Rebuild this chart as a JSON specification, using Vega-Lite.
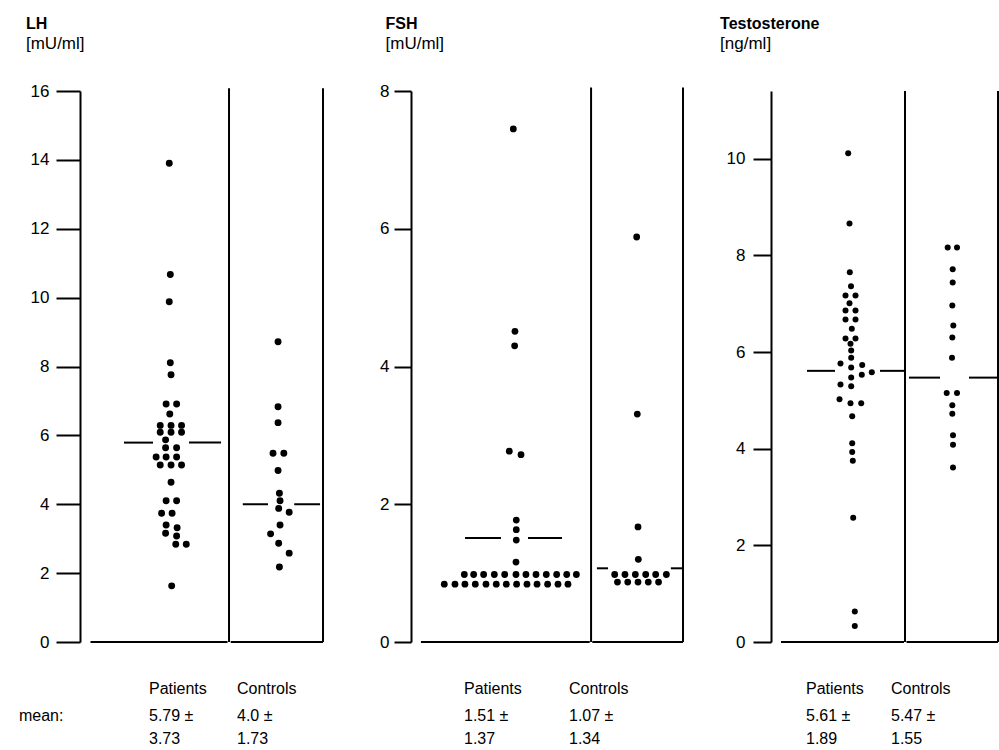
{
  "$schema": "https://vega.github.io/schema/vega-lite/v6.json",
  "padding": {"left": 18, "top": 16, "right": 0, "bottom": 0},
  "background": "white",
  "spacing": 88,
  "bounds": "flush",
  "config": {
    "view": {"stroke": null},
    "font": "Liberation Sans",
    "axis": {"grid": false, "domainColor": "black", "domainWidth": 2, "tickColor": "black", "tickWidth": 2, "labelFontSize": 17, "labelColor": "black", "labelFont": "Liberation Sans", "format": "d"},
    "text": {"font": "Liberation Sans", "fontSize": 16, "color": "black"}
  },
  "datasets": {
    "lh_pts": [
      {"group":"Patients","x":8.5,"value":13.9},{"group":"Patients","x":8.6,"value":10.67},{"group":"Patients","x":8.5,"value":9.88},{"group":"Patients","x":8.6,"value":8.11},{"group":"Patients","x":8.67,"value":7.76},
      {"group":"Patients","x":8.2,"value":6.91},{"group":"Patients","x":9.2,"value":6.91},{"group":"Patients","x":8.55,"value":6.62},
      {"group":"Patients","x":7.64,"value":6.29},{"group":"Patients","x":8.67,"value":6.29},{"group":"Patients","x":9.67,"value":6.29},
      {"group":"Patients","x":7.64,"value":6.09},{"group":"Patients","x":8.67,"value":6.09},{"group":"Patients","x":9.67,"value":6.09},
      {"group":"Patients","x":8.15,"value":5.87},{"group":"Patients","x":8.15,"value":5.64},{"group":"Patients","x":9.2,"value":5.64},
      {"group":"Patients","x":7.25,"value":5.37},{"group":"Patients","x":8.2,"value":5.37},{"group":"Patients","x":9.2,"value":5.37},
      {"group":"Patients","x":7.64,"value":5.14},{"group":"Patients","x":8.67,"value":5.14},{"group":"Patients","x":9.67,"value":5.14},
      {"group":"Patients","x":8.67,"value":4.64},{"group":"Patients","x":8.2,"value":4.1},{"group":"Patients","x":9.2,"value":4.1},
      {"group":"Patients","x":7.77,"value":3.74},{"group":"Patients","x":8.77,"value":3.74},{"group":"Patients","x":8.2,"value":3.4},{"group":"Patients","x":9.25,"value":3.32},
      {"group":"Patients","x":8.15,"value":3.16},{"group":"Patients","x":9.2,"value":3.08},{"group":"Patients","x":9.12,"value":2.84},{"group":"Patients","x":10.12,"value":2.84},{"group":"Patients","x":8.73,"value":1.63},
      {"group":"Controls","x":18.86,"value":8.72},{"group":"Controls","x":18.86,"value":6.83},{"group":"Controls","x":18.86,"value":6.37},
      {"group":"Controls","x":18.38,"value":5.48},{"group":"Controls","x":19.41,"value":5.48},{"group":"Controls","x":18.86,"value":4.98},
      {"group":"Controls","x":18.99,"value":4.32},{"group":"Controls","x":19.05,"value":4.1},{"group":"Controls","x":18.92,"value":3.88},{"group":"Controls","x":19.92,"value":3.77},
      {"group":"Controls","x":19.05,"value":3.4},{"group":"Controls","x":18.15,"value":3.14},{"group":"Controls","x":18.92,"value":2.87},{"group":"Controls","x":19.92,"value":2.58},{"group":"Controls","x":18.99,"value":2.18}
    ],
    "lh_frame": [{"x": 14.19}, {"x": 23.14}],
    "lh_base": [{"x": 1.0, "x2": 14.05}, {"x": 14.35, "x2": 23.14}],
    "lh_mean": [
      {"group":"Patients","mean":5.79,"x":4.19,"x2":6.95},{"group":"Patients","mean":5.79,"x":10.38,"x2":13.43},
      {"group":"Controls","mean":4.0,"x":15.5,"x2":17.9},{"group":"Controls","mean":4.0,"x":20.4,"x2":22.86}
    ],
    "lh_labels": [{"x": 6.57, "label": "Patients"}, {"x": 14.95, "label": "Controls"}],
    "lh_stats": [{"x": -5.81, "label": "mean:"}, {"x": 6.57, "label": "5.79 ±\n3.73"}, {"x": 14.95, "label": "4.0 ±\n1.73"}],

    "fsh_pts": [
      {"group":"Patients","x":9.96,"value":7.45},{"group":"Patients","x":10.12,"value":4.51},{"group":"Patients","x":10.09,"value":4.3},
      {"group":"Patients","x":9.57,"value":2.77},{"group":"Patients","x":10.71,"value":2.72},{"group":"Patients","x":10.25,"value":1.77},
      {"group":"Patients","x":10.25,"value":1.63},{"group":"Patients","x":10.25,"value":1.48},{"group":"Patients","x":10.22,"value":1.16},
      {"group":"Patients","x":5.19,"value":0.98},{"group":"Patients","x":6.1,"value":0.98},{"group":"Patients","x":7.07,"value":0.98},{"group":"Patients","x":8.11,"value":0.98},
      {"group":"Patients","x":9.12,"value":0.98},{"group":"Patients","x":10.22,"value":0.98},{"group":"Patients","x":11.19,"value":0.98},{"group":"Patients","x":12.17,"value":0.98},
      {"group":"Patients","x":13.17,"value":0.98},{"group":"Patients","x":14.18,"value":0.98},{"group":"Patients","x":15.16,"value":0.98},{"group":"Patients","x":16.1,"value":0.98},
      {"group":"Patients","x":3.24,"value":0.84},{"group":"Patients","x":4.28,"value":0.84},{"group":"Patients","x":5.25,"value":0.84},{"group":"Patients","x":6.26,"value":0.84},
      {"group":"Patients","x":7.3,"value":0.84},{"group":"Patients","x":8.3,"value":0.84},{"group":"Patients","x":9.28,"value":0.84},{"group":"Patients","x":10.28,"value":0.84},
      {"group":"Patients","x":11.29,"value":0.84},{"group":"Patients","x":12.27,"value":0.84},{"group":"Patients","x":13.3,"value":0.84},{"group":"Patients","x":14.31,"value":0.84},{"group":"Patients","x":15.28,"value":0.84},
      {"group":"Controls","x":21.97,"value":5.88},{"group":"Controls","x":22.03,"value":3.31},{"group":"Controls","x":22.1,"value":1.67},{"group":"Controls","x":22.13,"value":1.2},
      {"group":"Controls","x":19.83,"value":0.98},{"group":"Controls","x":20.83,"value":0.98},{"group":"Controls","x":21.84,"value":0.98},{"group":"Controls","x":22.85,"value":0.98},{"group":"Controls","x":23.82,"value":0.98},{"group":"Controls","x":24.86,"value":0.98},
      {"group":"Controls","x":20.1,"value":0.87},{"group":"Controls","x":21.1,"value":0.87},{"group":"Controls","x":22.1,"value":0.87},{"group":"Controls","x":23.1,"value":0.87},{"group":"Controls","x":24.1,"value":0.87}
    ],
    "fsh_frame": [{"x": 17.53}, {"x": 26.48}],
    "fsh_base": [{"x": 0.97, "x2": 17.4}, {"x": 17.65, "x2": 26.48}],
    "fsh_mean": [
      {"group":"Patients","mean":1.51,"x":5.26,"x2":8.76},{"group":"Patients","mean":1.51,"x":11.39,"x2":14.7},
      {"group":"Controls","mean":1.07,"x":18.1,"x2":19.18},{"group":"Controls","mean":1.07,"x":25.3,"x2":26.48}
    ],
    "fsh_labels": [{"x": 5.16, "label": "Patients"}, {"x": 15.38, "label": "Controls"}],
    "fsh_stats": [{"x": 5.16, "label": "1.51 ±\n1.37"}, {"x": 15.38, "label": "1.07 ±\n1.34"}],

    "t_pts": [
      {"group":"Patients","x":7.72,"value":10.11},{"group":"Patients","x":7.85,"value":8.66},{"group":"Patients","x":7.88,"value":7.65},{"group":"Patients","x":8.0,"value":7.36},
      {"group":"Patients","x":7.45,"value":7.17},{"group":"Patients","x":8.45,"value":7.17},{"group":"Patients","x":7.85,"value":7.01},
      {"group":"Patients","x":7.45,"value":6.86},{"group":"Patients","x":8.45,"value":6.86},{"group":"Patients","x":7.45,"value":6.67},{"group":"Patients","x":8.45,"value":6.67},
      {"group":"Patients","x":8.08,"value":6.48},{"group":"Patients","x":7.45,"value":6.28},{"group":"Patients","x":8.45,"value":6.28},{"group":"Patients","x":7.95,"value":6.17},
      {"group":"Patients","x":8.02,"value":6.03},{"group":"Patients","x":8.02,"value":5.88},{"group":"Patients","x":6.95,"value":5.76},{"group":"Patients","x":9.12,"value":5.73},
      {"group":"Patients","x":8.02,"value":5.68},{"group":"Patients","x":10.08,"value":5.58},{"group":"Patients","x":9.08,"value":5.53},{"group":"Patients","x":8.02,"value":5.47},
      {"group":"Patients","x":6.95,"value":5.33},{"group":"Patients","x":8.02,"value":5.29},{"group":"Patients","x":6.85,"value":5.02},{"group":"Patients","x":7.95,"value":4.94},{"group":"Patients","x":9.02,"value":4.94},
      {"group":"Patients","x":8.12,"value":4.67},{"group":"Patients","x":8.12,"value":4.11},{"group":"Patients","x":8.12,"value":3.93},{"group":"Patients","x":8.18,"value":3.75},
      {"group":"Patients","x":8.22,"value":2.57},{"group":"Patients","x":8.38,"value":0.63},{"group":"Patients","x":8.38,"value":0.33},
      {"group":"Controls","x":17.67,"value":8.16},{"group":"Controls","x":18.6,"value":8.16},{"group":"Controls","x":18.17,"value":7.71},{"group":"Controls","x":18.17,"value":7.44},
      {"group":"Controls","x":18.13,"value":6.96},{"group":"Controls","x":18.23,"value":6.55},{"group":"Controls","x":18.13,"value":6.3},{"group":"Controls","x":18.1,"value":5.88},
      {"group":"Controls","x":17.57,"value":5.15},{"group":"Controls","x":18.6,"value":5.15},{"group":"Controls","x":18.13,"value":4.9},{"group":"Controls","x":18.13,"value":4.72},
      {"group":"Controls","x":18.2,"value":4.28},{"group":"Controls","x":18.2,"value":4.08},{"group":"Controls","x":18.2,"value":3.61}
    ],
    "t_frame": [{"x": 13.4}, {"x": 22.7}],
    "t_base": [{"x": 1.0, "x2": 13.3}, {"x": 13.55, "x2": 22.7}],
    "t_mean": [
      {"group":"Patients","mean":5.61,"x":3.6,"x2":6.4},{"group":"Patients","mean":5.61,"x":10.9,"x2":13.4},
      {"group":"Controls","mean":5.47,"x":13.8,"x2":16.9},{"group":"Controls","mean":5.47,"x":19.8,"x2":22.7}
    ],
    "t_labels": [{"x": 3.5, "label": "Patients"}, {"x": 12.0, "label": "Controls"}],
    "t_stats": [{"x": 3.5, "label": "5.61 ±\n1.89"}, {"x": 12.0, "label": "5.47 ±\n1.55"}]
  },
  "hconcat": [
    {
      "width": 243, "height": 551,
      "title": {"text": "LH", "subtitle": "[mU/ml]", "anchor": "start", "frame": "bounds", "fontSize": 16, "fontWeight": "bold", "font": "Liberation Sans", "color": "black", "subtitleFont": "Liberation Sans", "subtitleFontSize": 17, "subtitleColor": "black", "subtitlePadding": 4, "offset": 30, "dx": 7},
      "layer": [
        {"data": {"name": "lh_frame"}, "mark": {"type": "rule", "color": "black", "strokeWidth": 2},
         "encoding": {"x": {"field": "x", "type": "quantitative", "axis": null, "title": null, "scale": {"domain": [0, 23.14], "nice": false, "zero": false}},
                      "y": {"datum": 0, "type": "quantitative", "title": null, "scale": {"domain": [0, 16], "nice": false}, "axis": {"values": [0,2,4,6,8,10,12,14,16], "tickSize": 24, "labelPadding": 7, "title": null}},
                      "y2": {"datum": 16.08}}},
        {"data": {"name": "lh_base"}, "mark": {"type": "rule", "color": "black", "strokeWidth": 2},
         "encoding": {"x": {"field": "x", "type": "quantitative", "title": null, "scale": {"domain": [0, 23.14], "nice": false, "zero": false}}, "x2": {"field": "x2"},
                      "y": {"datum": 0, "type": "quantitative", "title": null, "scale": {"domain": [0, 16], "nice": false}}}},
        {"data": {"name": "lh_mean"}, "mark": {"type": "rule", "color": "black", "strokeWidth": 2},
         "encoding": {"x": {"field": "x", "type": "quantitative", "title": null, "scale": {"domain": [0, 23.14], "nice": false, "zero": false}}, "x2": {"field": "x2"},
                      "y": {"field": "mean", "type": "quantitative", "title": null, "scale": {"domain": [0, 16], "nice": false}}}},
        {"data": {"name": "lh_pts"}, "mark": {"type": "circle", "size": 48, "color": "black", "opacity": 1},
         "encoding": {"x": {"field": "x", "type": "quantitative", "title": null, "scale": {"domain": [0, 23.14], "nice": false, "zero": false}},
                      "y": {"field": "value", "type": "quantitative", "title": null, "scale": {"domain": [0, 16], "nice": false}}}},
        {"data": {"name": "lh_labels"}, "mark": {"type": "text", "align": "left", "baseline": "alphabetic", "dy": 52},
         "encoding": {"x": {"field": "x", "type": "quantitative", "title": null, "scale": {"domain": [0, 23.14], "nice": false, "zero": false}},
                      "y": {"datum": 0, "type": "quantitative", "title": null, "scale": {"domain": [0, 16], "nice": false}},
                      "text": {"field": "label"}}},
        {"data": {"name": "lh_stats"}, "mark": {"type": "text", "align": "left", "baseline": "alphabetic", "dy": 79, "lineBreak": "\n", "lineHeight": 23},
         "encoding": {"x": {"field": "x", "type": "quantitative", "title": null, "scale": {"domain": [0, 23.14], "nice": false, "zero": false}},
                      "y": {"datum": 0, "type": "quantitative", "title": null, "scale": {"domain": [0, 16], "nice": false}},
                      "text": {"field": "label"}}}
      ]
    },
    {
      "width": 272, "height": 551,
      "title": {"text": "FSH", "subtitle": "[mU/ml]", "anchor": "start", "frame": "bounds", "fontSize": 16, "fontWeight": "bold", "font": "Liberation Sans", "color": "black", "subtitleFont": "Liberation Sans", "subtitleFontSize": 17, "subtitleColor": "black", "subtitlePadding": 4, "offset": 30, "dx": 6},
      "layer": [
        {"data": {"name": "fsh_frame"}, "mark": {"type": "rule", "color": "black", "strokeWidth": 2},
         "encoding": {"x": {"field": "x", "type": "quantitative", "axis": null, "title": null, "scale": {"domain": [0, 26.48], "nice": false, "zero": false}},
                      "y": {"datum": 0, "type": "quantitative", "title": null, "scale": {"domain": [0, 8], "nice": false}, "axis": {"values": [0,2,4,6,8], "format": "d", "tickSize": 17, "labelPadding": 5, "title": null}},
                      "y2": {"datum": 8.05}}},
        {"data": {"name": "fsh_base"}, "mark": {"type": "rule", "color": "black", "strokeWidth": 2},
         "encoding": {"x": {"field": "x", "type": "quantitative", "title": null, "scale": {"domain": [0, 26.48], "nice": false, "zero": false}}, "x2": {"field": "x2"},
                      "y": {"datum": 0, "type": "quantitative", "title": null, "scale": {"domain": [0, 8], "nice": false}}}},
        {"data": {"name": "fsh_mean"}, "mark": {"type": "rule", "color": "black", "strokeWidth": 2},
         "encoding": {"x": {"field": "x", "type": "quantitative", "title": null, "scale": {"domain": [0, 26.48], "nice": false, "zero": false}}, "x2": {"field": "x2"},
                      "y": {"field": "mean", "type": "quantitative", "title": null, "scale": {"domain": [0, 8], "nice": false}}}},
        {"data": {"name": "fsh_pts"}, "mark": {"type": "circle", "size": 46, "color": "black", "opacity": 1},
         "encoding": {"x": {"field": "x", "type": "quantitative", "title": null, "scale": {"domain": [0, 26.48], "nice": false, "zero": false}},
                      "y": {"field": "value", "type": "quantitative", "title": null, "scale": {"domain": [0, 8], "nice": false}}}},
        {"data": {"name": "fsh_labels"}, "mark": {"type": "text", "align": "left", "baseline": "alphabetic", "dy": 52},
         "encoding": {"x": {"field": "x", "type": "quantitative", "title": null, "scale": {"domain": [0, 26.48], "nice": false, "zero": false}},
                      "y": {"datum": 0, "type": "quantitative", "title": null, "scale": {"domain": [0, 8], "nice": false}},
                      "text": {"field": "label"}}},
        {"data": {"name": "fsh_stats"}, "mark": {"type": "text", "align": "left", "baseline": "alphabetic", "dy": 79, "lineBreak": "\n", "lineHeight": 23},
         "encoding": {"x": {"field": "x", "type": "quantitative", "title": null, "scale": {"domain": [0, 26.48], "nice": false, "zero": false}},
                      "y": {"datum": 0, "type": "quantitative", "title": null, "scale": {"domain": [0, 8], "nice": false}},
                      "text": {"field": "label"}}}
      ]
    },
    {
      "width": 227, "height": 551,
      "title": {"text": "Testosterone", "subtitle": "[ng/ml]", "anchor": "start", "frame": "bounds", "fontSize": 16, "fontWeight": "bold", "font": "Liberation Sans", "color": "black", "subtitleFont": "Liberation Sans", "subtitleFontSize": 17, "subtitleColor": "black", "subtitlePadding": 4, "offset": 38, "dx": -6},
      "layer": [
        {"data": {"name": "t_frame"}, "mark": {"type": "rule", "color": "black", "strokeWidth": 2},
         "encoding": {"x": {"field": "x", "type": "quantitative", "axis": null, "title": null, "scale": {"domain": [0, 22.7], "nice": false, "zero": false}},
                      "y": {"datum": 0, "type": "quantitative", "title": null, "scale": {"domain": [0, 11.4], "nice": false}, "axis": {"values": [0,2,4,6,8,10], "format": "d", "tickSize": 18, "labelPadding": 8, "title": null}},
                      "y2": {"datum": 11.4}}},
        {"data": {"name": "t_base"}, "mark": {"type": "rule", "color": "black", "strokeWidth": 2},
         "encoding": {"x": {"field": "x", "type": "quantitative", "title": null, "scale": {"domain": [0, 22.7], "nice": false, "zero": false}}, "x2": {"field": "x2"},
                      "y": {"datum": 0, "type": "quantitative", "title": null, "scale": {"domain": [0, 11.4], "nice": false}}}},
        {"data": {"name": "t_mean"}, "mark": {"type": "rule", "color": "black", "strokeWidth": 2},
         "encoding": {"x": {"field": "x", "type": "quantitative", "title": null, "scale": {"domain": [0, 22.7], "nice": false, "zero": false}}, "x2": {"field": "x2"},
                      "y": {"field": "mean", "type": "quantitative", "title": null, "scale": {"domain": [0, 11.4], "nice": false}}}},
        {"data": {"name": "t_pts"}, "mark": {"type": "circle", "size": 36, "color": "black", "opacity": 1},
         "encoding": {"x": {"field": "x", "type": "quantitative", "title": null, "scale": {"domain": [0, 22.7], "nice": false, "zero": false}},
                      "y": {"field": "value", "type": "quantitative", "title": null, "scale": {"domain": [0, 11.4], "nice": false}}}},
        {"data": {"name": "t_labels"}, "mark": {"type": "text", "align": "left", "baseline": "alphabetic", "dy": 52},
         "encoding": {"x": {"field": "x", "type": "quantitative", "title": null, "scale": {"domain": [0, 22.7], "nice": false, "zero": false}},
                      "y": {"datum": 0, "type": "quantitative", "title": null, "scale": {"domain": [0, 11.4], "nice": false}},
                      "text": {"field": "label"}}},
        {"data": {"name": "t_stats"}, "mark": {"type": "text", "align": "left", "baseline": "alphabetic", "dy": 79, "lineBreak": "\n", "lineHeight": 23},
         "encoding": {"x": {"field": "x", "type": "quantitative", "title": null, "scale": {"domain": [0, 22.7], "nice": false, "zero": false}},
                      "y": {"datum": 0, "type": "quantitative", "title": null, "scale": {"domain": [0, 11.4], "nice": false}},
                      "text": {"field": "label"}}}
      ]
    }
  ]
}
